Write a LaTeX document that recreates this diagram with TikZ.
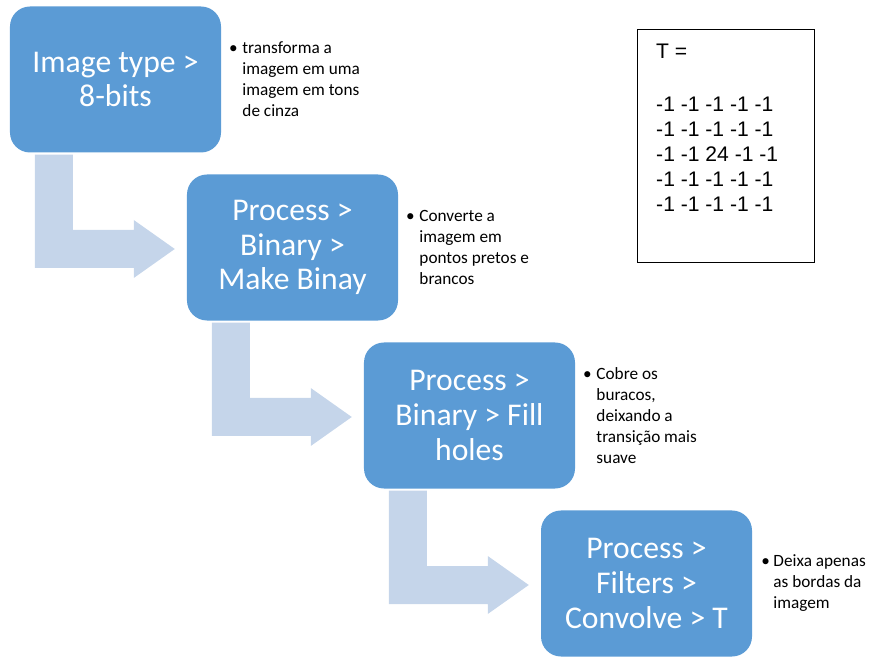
\documentclass[tikz,border=0pt]{standalone}
\usepackage{fontspec}
\setmainfont{Carlito}
\newfontfamily\kernelfont{Liberation Sans}
\usetikzlibrary{positioning,calc}
\definecolor{stepblue}{HTML}{5B9BD5}
\definecolor{turnblue}{HTML}{C5D5EA}

\begin{document}
\begin{tikzpicture}[
    x=0.03cm, y=-0.03cm,
    menubox/.style={fill=stepblue,text=white,rounded corners=0.6cm,
      minimum width=6.33cm,minimum height=4.38cm,align=center,
      font=\fontsize{27}{29.5}\selectfont},
    note/.style={align=left,inner sep=0pt,
      font=\fontsize{14.7}{17.9}\selectfont},
    turn/.style={fill=turnblue},
    kernel/.style={draw,line width=0.7pt,minimum width=5.31cm,
      minimum height=6.99cm}
  ]
    \useasboundingbox (0,0) rectangle (891,657);

    % the four ImageJ menu steps, each one down and to the right
    \node[menubox] (imgtype) at (115.5,79.5) {Image type >\\8-bits};
    \node[menubox] (binary) at (292.5,247.5)
      {Process >\\Binary >\\Make Binay};
    \node[menubox] (fill) at (469.5,415.5)
      {Process >\\Binary > Fill\\holes};
    \node[menubox] (convolve) at (646.5,583.5)
      {Process >\\Filters >\\Convolve > T};

    % bent arrows from the foot of one step into the side of the next
    \foreach \a/\b in {imgtype/binary,binary/fill,fill/convolve}
      \fill[turn] ($(\a.south west)+(25,2)$) coordinate (s) -- ++(38,0)
        |- ($(\b.west)+(-53,-17.5)$) -- ++(0,-10)
        -- ($(\b.west)+(-12,1.5)$) -- ($(\b.west)+(-53,30.5)$)
        -- ++(0,-10) -| (s) -- cycle;

    \node[note,right=0.63cm of imgtype] (note1)
      {\llap{\textbullet\hspace{4pt}}transforma a\\imagem em uma\\
       imagem em tons\\de cinza};
    \node[note,right=0.63cm of binary] (note2)
      {\llap{\textbullet\hspace{4pt}}Converte a\\imagem em\\
       pontos pretos e\\brancos};
    \node[note,right=0.63cm of fill] (note3)
      {\llap{\textbullet\hspace{4pt}}Cobre os\\buracos,\\deixando a\\
       transição mais\\suave};
    \node[note,right=0.63cm of convolve] (note4)
      {\llap{\textbullet\hspace{3pt}}Deixa apenas\\as bordas da\\imagem};

    % the kernel T used by Convolve
    \node[kernel] (kernel) at (725.5,145.5) {};
    \node[font=\kernelfont\fontsize{18}{21.3}\selectfont,align=left,
      anchor=north west,inner sep=0pt] (ktext) at (656,44)
      {T =\\[23.5pt]
       -1 -1 -1 -1 -1\\-1 -1 -1 -1 -1\\-1 -1 24 -1 -1\\
       -1 -1 -1 -1 -1\\-1 -1 -1 -1 -1};
  \end{tikzpicture}
\end{document}
